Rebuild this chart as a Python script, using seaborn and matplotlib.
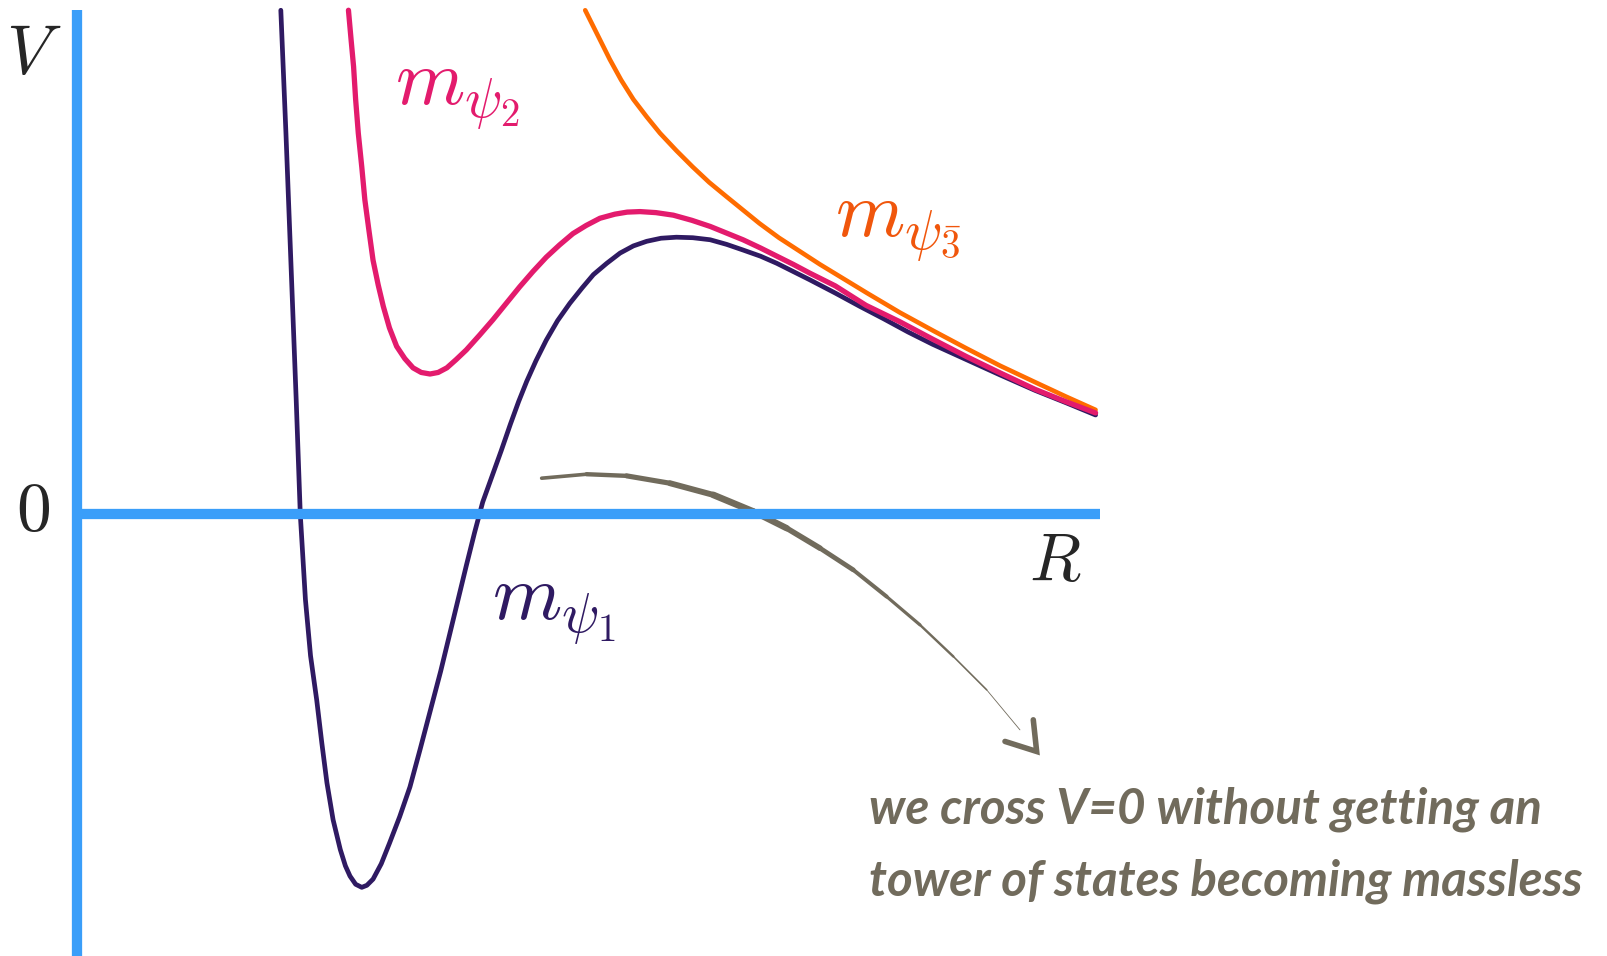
import numpy as np
import matplotlib
matplotlib.use("Agg")
import matplotlib.pyplot as plt
import seaborn as sns

sns.set_style("white")
plt.rcParams["mathtext.fontset"] = "cm"

# curves (R, V)
r_psi1 = [1.99, 2.04, 2.09, 2.14, 2.18, 2.23, 2.28, 2.34, 2.39, 2.44, 2.50, 2.57, 2.62, 2.665,
          2.72, 2.78, 2.83, 2.89, 2.97, 3.05, 3.15, 3.25, 3.35, 3.45, 3.55, 3.64, 3.72, 3.80,
          3.88, 3.96, 4.05, 4.14, 4.23, 4.31, 4.39, 4.48, 4.58, 4.69, 4.81, 4.93, 5.04, 5.17,
          5.30, 5.43, 5.56, 5.70, 5.85, 6.01, 6.18, 6.34, 6.50, 6.67, 6.83, 6.99, 7.15, 7.40,
          7.64, 7.87, 8.11, 8.35, 8.68, 9.01, 9.35, 9.65, 9.94]
v_psi1 = [4.92, 3.72, 2.42, 1.12, 0.00, -0.83, -1.38, -1.81, -2.23, -2.62, -2.98, -3.27, -3.43, -3.53,
          -3.61, -3.64, -3.62, -3.56, -3.41, -3.21, -2.95, -2.66, -2.29, -1.91, -1.53, -1.16, -0.83, -0.50,
          -0.18, 0.12, 0.37, 0.62, 0.88, 1.10, 1.30, 1.50, 1.70, 1.89, 2.06, 2.21, 2.34, 2.45,
          2.55, 2.62, 2.665, 2.695, 2.705, 2.70, 2.68, 2.635, 2.58, 2.52, 2.45, 2.37, 2.29, 2.16,
          2.03, 1.91, 1.78, 1.66, 1.51, 1.36, 1.21, 1.09, 0.97]

r_psi2 = [2.65, 2.675, 2.70, 2.72, 2.746, 2.78, 2.81, 2.85, 2.89, 2.94, 2.99, 3.05, 3.12, 3.20,
          3.28, 3.36, 3.446, 3.525, 3.61, 3.70, 3.80, 3.93, 4.06, 4.19, 4.32, 4.45, 4.58, 4.71,
          4.84, 4.97, 5.104, 5.25, 5.37, 5.495, 5.65, 5.82, 6.00, 6.18, 6.34, 6.50, 6.67, 6.83,
          6.99, 7.15, 7.40, 7.70, 8.03, 8.35, 8.68, 9.01, 9.35, 9.65, 9.94]
v_psi2 = [4.92, 4.64, 4.37, 4.05, 3.72, 3.39, 3.07, 2.77, 2.48, 2.24, 2.03, 1.82, 1.64, 1.52,
          1.43, 1.385, 1.37, 1.385, 1.43, 1.51, 1.605, 1.75, 1.90, 2.06, 2.22, 2.37, 2.51, 2.63,
          2.74, 2.82, 2.89, 2.93, 2.95, 2.955, 2.945, 2.92, 2.87, 2.81, 2.745, 2.68, 2.60, 2.52,
          2.44, 2.355, 2.23, 2.04, 1.88, 1.71, 1.54, 1.38, 1.22, 1.10, 0.99]

r_psi3 = [4.96, 5.08, 5.20, 5.31, 5.43, 5.56, 5.69, 5.85, 6.01, 6.17, 6.34, 6.50, 6.66, 6.85,
          7.05, 7.25, 7.48, 7.71, 8.03, 8.36, 8.68, 9.01, 9.35, 9.65, 9.94]
v_psi3 = [4.92, 4.68, 4.44, 4.24, 4.05, 3.88, 3.72, 3.55, 3.39, 3.24, 3.10, 2.97, 2.84, 2.70,
          2.57, 2.44, 2.30, 2.16, 1.97, 1.79, 1.62, 1.45, 1.29, 1.15, 1.02]

# hand drawn arrow
arrow_r = [4.535, 4.974, 5.364, 5.787, 6.21, 6.60, 6.926, 7.251, 7.576, 7.901, 8.226, 8.552, 8.877, 9.202]
arrow_v = [0.353, 0.392, 0.376, 0.304, 0.19, 0.028, -0.135, -0.33, -0.542, -0.802, -1.078, -1.387, -1.712, -2.103]
head_r = [9.056, 9.365, 9.332]
head_v = [-2.216, -2.314, -2.005]

curve_labels = [r"$m_{\psi_1}$", r"$m_{\psi_2}$", r"$m_{\psi_{\bar{3}}}$"]
note_lines = ["we cross V=0 without getting an", "tower of states becoming massless"]

blue = "#3a9ef9"
c1, c2, c3 = "#2f1a62", "#e31b6d", "#ff6c00"
c3_text = "#f0560c"
grey = "#716b5c"

fig = plt.figure(figsize=(16.07, 9.56), dpi=100)
ax = fig.add_axes([0, 0, 1, 1])
ax.set_xlim(-0.75, 14.93)
ax.set_ylim(-4.31, 5.02)

# axes drawn as spines through the origin
for s in ["top", "right"]:
    ax.spines[s].set_visible(False)
ax.spines["left"].set_position(("data", 0))
ax.spines["bottom"].set_position(("data", 0))
ax.spines["left"].set_bounds(-4.31, 4.92)
ax.spines["bottom"].set_bounds(0, 9.98)
for s in ["left", "bottom"]:
    ax.spines[s].set_color(blue)
    ax.spines[s].set_linewidth(7.4)
    ax.spines[s].set_capstyle("butt")
ax.set_xticks([])
ax.set_yticks([])
ax.patch.set_alpha(0)

sns.lineplot(x=r_psi3, y=v_psi3, sort=False, estimator=None, color=c3, lw=3.3, ax=ax)
sns.lineplot(x=r_psi1, y=v_psi1, sort=False, estimator=None, color=c1, lw=3.4, ax=ax)
sns.lineplot(x=r_psi2, y=v_psi2, sort=False, estimator=None, color=c2, lw=3.8, ax=ax)

# brush-like arrow, thick in the middle and tapering toward the tip
n = len(arrow_r) - 1
widths = np.concatenate([np.linspace(2.6, 4.8, 5), np.linspace(4.6, 0.6, n - 5)])
for i in range(n):
    ax.plot(arrow_r[i:i + 2], arrow_v[i:i + 2], color=grey, lw=widths[i],
            solid_capstyle="round")
ax.plot(head_r, head_v, color=grey, lw=4.0, solid_capstyle="round", solid_joinstyle="miter")

ax.text(-0.42, 4.50, r"$V$", fontsize=50, ha="center", va="center")
ax.text(-0.43, 0.04, r"$0$", fontsize=50, ha="center", va="center")
ax.text(9.55, -0.46, r"$R$", fontsize=48, ha="center", va="center")

ax.text(4.05, -1.03, curve_labels[0], fontsize=57, color=c1, ha="left", va="baseline")
ax.text(3.10, 4.00, curve_labels[1], fontsize=57, color=c2, ha="left", va="baseline")
ax.text(7.40, 2.71, curve_labels[2], fontsize=57, color=c3_text, ha="left", va="baseline")

for k, line in enumerate(note_lines):
    ax.text(7.73, -2.88 - 0.70 * k, line, fontsize=35.5, color=grey, family="Lato",
            weight="bold", style="italic", ha="left", va="center")

fig.savefig("out.png", dpi=100)
